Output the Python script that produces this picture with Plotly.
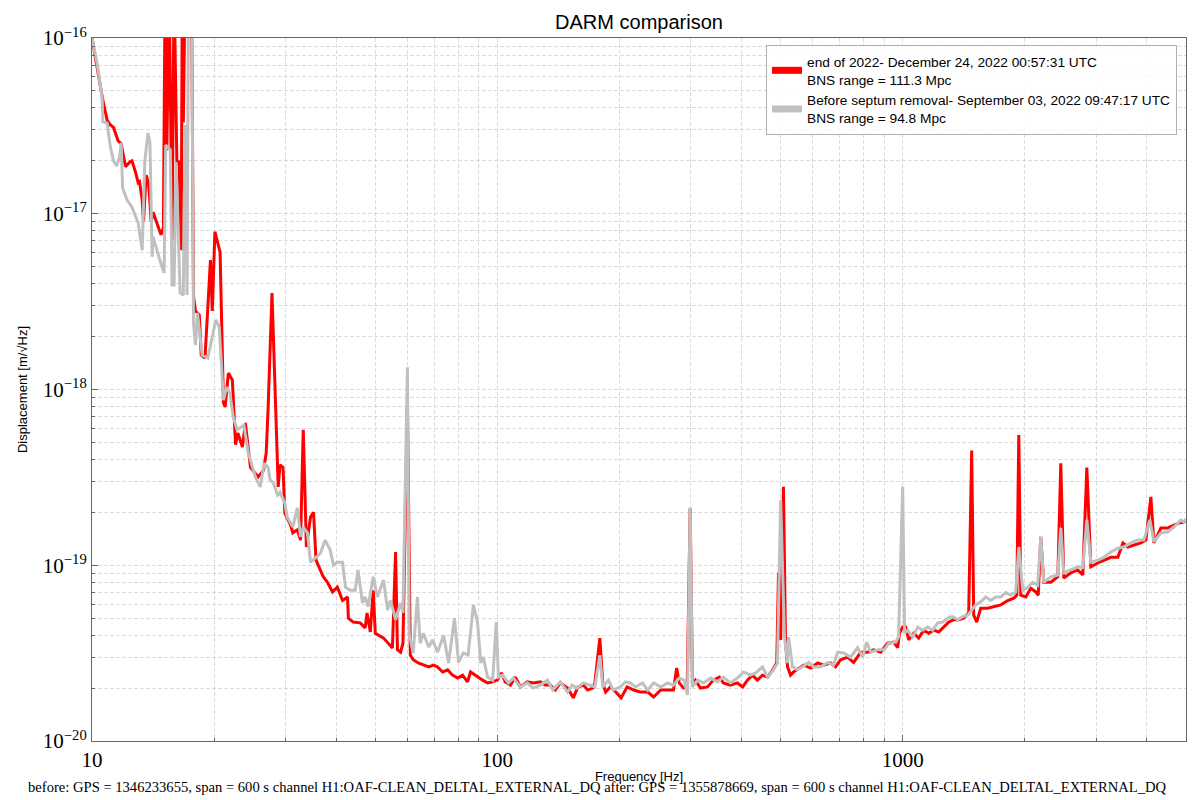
import plotly.graph_objects as go

# DARM displacement ASD
red_freq = [10.0, 10.35, 10.64, 10.9, 11.1, 11.3, 11.6, 11.8, 12.0, 12.1, 12.4, 12.55, 12.8, 13.0, 13.1, 13.3, 13.4,
            13.6, 13.8, 14.0, 14.15, 14.56, 14.8, 15.0, 15.15, 15.3, 15.5, 15.76, 15.94, 16.2, 16.4, 16.6, 16.7,
            16.8, 16.97, 17.3, 17.6, 17.8, 18.0, 18.4, 18.6, 19.0, 19.6, 19.8, 20.1, 20.7, 21.1, 21.3, 21.7, 22.2,
            22.6, 22.9, 23.5, 23.9, 24.6, 25.7, 26.5, 26.9, 27.2, 27.8, 28.0, 28.8, 29.1, 29.6, 29.9, 30.9, 31.3,
            32.1, 32.7, 33.2, 33.4, 33.8, 34.6, 35.2, 35.7, 37.2, 38.1, 39.2, 40.3, 41.5, 42.7, 42.9, 44.1, 45.9,
            47.2, 47.7, 48.6, 49.4, 50.0, 52.4, 55.1, 56.1, 56.7, 57.7, 58.5, 60.0, 61.0, 62.0, 63.8, 65.7, 67.7,
            69.6, 71.2, 73.3, 75.4, 77.5, 79.8, 82.1, 84.4, 85.9, 89.4, 92.0, 94.6, 97.4, 100, 102.4, 104.6, 107.7,
            110.8, 114, 118.6, 122.7, 127.7, 131.4, 135, 139, 143, 149, 154, 158, 163, 167, 172, 174, 179, 182,
            185, 190, 196, 202, 209, 217, 225, 235, 243, 253, 263, 272, 277, 281, 288, 294, 299, 303, 308, 317,
            330, 341, 353, 361, 376, 391, 403, 414, 426, 438, 451, 464, 478, 489, 494, 500, 508, 514, 520, 529,
            538, 554, 570, 593, 617, 638, 664, 683, 703, 731, 757, 788, 820, 848, 883, 918, 950, 972, 982, 1000,
            1017, 1035, 1065, 1095, 1127, 1159, 1193, 1227, 1262, 1299, 1336, 1375, 1414, 1455, 1480, 1497, 1523,
            1558, 1622, 1678, 1746, 1817, 1880, 1912, 1934, 1956, 2013, 2070, 2130, 2160, 2191, 2229, 2320, 2414,
            2455, 2497, 2599, 2704, 2782, 2847, 2912, 3030, 3136, 3263, 3396, 3494, 3594, 3719, 3870, 3981, 4096,
            4167, 4335, 4510, 4667, 4803, 4941, 5000]
red_asd = [1.0e-16, 6.3e-17, 4.4e-17, 3.4e-17, 3.2e-17, 3.1e-17, 2.6e-17, 2.5e-17, 2.0e-17, 1.85e-17, 1.97e-17,
           2.0e-17, 1.73e-17, 1.5e-17, 1.52e-17, 1.2e-17, 9.0e-18, 1.66e-17, 1.46e-17, 9.0e-18, 1.02e-17, 8.6e-18,
           7.6e-18, 8.3e-18, 2e-16, 2.3e-17, 2e-16, 7.1e-18, 2e-16, 1.9e-17, 2.0e-17, 6.2e-18, 2e-16, 3.3e-17,
           2e-16, 2e-16, 2e-16, 3.4e-18, 2.8e-18, 2.65e-18, 1.57e-18, 1.51e-18, 5.45e-18, 2.8e-18, 7.9e-18,
           6.05e-18, 8.4e-19, 7.95e-19, 1.24e-18, 1.13e-18, 4.85e-19, 5.66e-19, 4.7e-19, 6.45e-19, 3.6e-19,
           3.18e-19, 3.48e-19, 4.35e-19, 7.95e-19, 3.54e-18, 2.1e-18, 2.79e-19, 3.72e-19, 3.6e-19, 1.98e-19,
           1.69e-19, 1.53e-19, 1.59e-19, 1.39e-19, 5.9e-19, 3.6e-19, 1.27e-19, 1.88e-19, 2.0e-19, 1.07e-19,
           8.6e-20, 8.0e-20, 7.05e-20, 7.5e-20, 6.3e-20, 6.6e-20, 5.0e-20, 4.75e-20, 4.7e-20, 4.4e-20, 5.35e-20,
           4.17e-20, 7.2e-20, 4.1e-20, 3.85e-20, 3.38e-20, 1.19e-19, 3.3e-20, 3.2e-20, 3.6e-20, 8.4e-19, 3.08e-20,
           2.9e-20, 2.78e-20, 2.7e-20, 2.64e-20, 2.7e-20, 2.64e-20, 2.47e-20, 2.54e-20, 2.37e-20, 2.28e-20,
           2.37e-20, 2.17e-20, 2.47e-20, 2.31e-20, 2.22e-20, 2.14e-20, 2.17e-20, 2.22e-20, 2.44e-20, 2.17e-20,
           2.08e-20, 2.31e-20, 2.03e-20, 2.17e-20, 2.14e-20, 2.17e-20, 2.08e-20, 2.08e-20, 1.95e-20, 2.14e-20,
           2.0e-20, 1.76e-20, 2.03e-20, 2.08e-20, 1.95e-20, 2.0e-20, 2.14e-20, 3.85e-20, 2.14e-20, 1.9e-20,
           2.03e-20, 1.9e-20, 1.76e-20, 2.03e-20, 1.95e-20, 1.9e-20, 1.9e-20, 1.78e-20, 1.95e-20, 1.95e-20,
           1.95e-20, 2.6e-20, 2.14e-20, 2.0e-20, 2.03e-20, 2.1e-19, 2.14e-20, 2.22e-20, 2.0e-20, 2.03e-20,
           2.22e-20, 2.31e-20, 2.14e-20, 2.08e-20, 2.14e-20, 2.03e-20, 2.22e-20, 2.37e-20, 2.22e-20, 2.37e-20,
           2.31e-20, 2.54e-20, 2.8e-20, 9.1e-20, 3.76e-20, 2.8e-19, 3.65e-20, 2.64e-20, 2.37e-20, 2.47e-20,
           2.6e-20, 2.7e-20, 2.6e-20, 2.78e-20, 2.7e-20, 2.78e-20, 2.64e-20, 2.9e-20, 3.0e-20, 2.8e-20, 3.2e-20,
           3.2e-20, 3.3e-20, 3.2e-20, 3.6e-20, 3.65e-20, 3.4e-20, 4.1e-20, 4.45e-20, 4.45e-20, 3.76e-20, 4.1e-20,
           3.85e-20, 4.27e-20, 4.1e-20, 4.27e-20, 4.17e-20, 4.45e-20, 4.75e-20, 4.9e-20, 4.9e-20, 5.0e-20,
           5.35e-20, 4.5e-19, 5.2e-20, 4.75e-20, 5.7e-20, 5.7e-20, 5.8e-20, 5.95e-20, 6.3e-20, 6.5e-20, 6.75e-20,
           5.5e-19, 6.75e-20, 6.6e-20, 7.4e-20, 7.05e-20, 6.75e-20, 1.45e-19, 8.0e-20, 8.0e-20, 8.6e-20, 3.8e-19,
           8.45e-20, 9.06e-20, 9.4e-20, 8.8e-20, 3.6e-19, 9.8e-20, 1.03e-19, 1.07e-19, 1.11e-19, 1.11e-19,
           1.34e-19, 1.27e-19, 1.3e-19, 1.34e-19, 1.39e-19, 2.45e-19, 1.34e-19, 1.63e-19, 1.63e-19, 1.69e-19,
           1.74e-19, 1.76e-19, 1.8e-19]

gray_freq = [10.0, 10.29, 10.59, 10.64, 10.9, 11.1, 11.3, 11.5, 11.7, 11.8, 11.9, 12.2, 12.55, 12.8, 13.0, 13.3,
             13.5, 13.75, 13.9, 14.07, 14.15, 14.7, 15.06, 15.2, 15.6, 15.76, 15.94, 16.12, 16.5, 16.8, 16.97,
             17.16, 17.3, 17.6, 17.8, 18.0, 18.2, 18.7, 19.3, 19.8, 20.2, 20.6, 21.1, 21.5, 21.9, 22.3, 22.8, 23.2,
             23.7, 24.3, 25.3, 26.0, 26.6, 27.2, 27.5, 28.0, 28.7, 29.1, 29.9, 30.3, 31.3, 32.1, 32.7, 33.2, 34.0,
             34.6, 35.6, 36.6, 37.6, 38.7, 39.4, 40.3, 41.5, 42.2, 43.4, 44.6, 45.3, 46.5, 47.2, 48.0, 49.4, 50.6,
             52.4, 53.6, 54.5, 56.1, 57.7, 58.5, 60.0, 60.6, 62.0, 63.5, 64.5, 65.7, 67.7, 69.2, 71.2, 73.7, 75.8,
             78.4, 80.2, 82.4, 84.7, 87.3, 89.4, 91.0, 92.3, 94.6, 97.4, 99.4, 100.6, 103, 106.5, 109.5, 114,
             118.6, 122.7, 127.7, 133, 137, 143, 149, 153, 157, 163, 169, 174, 179, 182, 188, 193, 201, 207, 213,
             219, 228, 235, 243, 253, 263, 272, 281, 289, 294.5, 299, 303, 312, 323, 336, 349, 361, 376, 391, 405,
             421, 434, 451, 464, 480, 491, 500, 511, 520, 523, 535, 550, 566, 586, 603, 627, 653, 675, 691, 715,
             744, 774, 797, 815, 834, 868, 900, 924, 961, 977, 1000, 1011, 1029, 1058, 1089, 1120, 1153, 1186,
             1220, 1256, 1292, 1329, 1368, 1406, 1447, 1480, 1514, 1558, 1603, 1649, 1697, 1746, 1796, 1848, 1901,
             1934, 1978, 2035, 2094, 2154, 2191, 2229, 2320, 2414, 2455, 2497, 2599, 2704, 2782, 2847, 2912, 3030,
             3136, 3263, 3396, 3513, 3656, 3804, 3936, 4073, 4167, 4335, 4510, 4667, 4858, 4941, 5000]
gray_asd = [1.0e-16, 7.2e-17, 4.6e-17, 3.33e-17, 3.28e-17, 2.4e-17, 2.0e-17, 1.87e-17, 2.1e-17, 2.53e-17, 1.4e-17,
            1.2e-17, 1.09e-17, 9.8e-18, 8.85e-18, 6.2e-18, 2.0e-17, 2.88e-17, 2.53e-17, 5.7e-18, 7.4e-18, 5.45e-18,
            4.6e-18, 2.46e-17, 2.31e-17, 3.93e-18, 3.93e-18, 1.97e-17, 3.54e-18, 3.45e-18, 3.2e-17, 3.45e-18,
            2e-16, 2e-16, 2.39e-18, 1.79e-18, 2.73e-18, 1.57e-18, 1.51e-18, 1.99e-18, 2.49e-18, 2.27e-18, 8.7e-19,
            1.03e-18, 9.5e-19, 7.0e-19, 5.9e-19, 6.05e-19, 6.25e-19, 4.35e-19, 3.18e-19, 2.79e-19, 3.8e-19,
            3.6e-19, 3.06e-19, 2.95e-19, 2.51e-19, 2.6e-19, 2.26e-19, 1.88e-19, 1.65e-19, 2.12e-19, 1.45e-19,
            1.65e-19, 1.53e-19, 1.04e-19, 1.11e-19, 1.17e-19, 1.39e-19, 1.22e-19, 1.0e-19, 1.04e-19, 1.04e-19,
            7.5e-20, 7.2e-20, 7.2e-20, 9.4e-20, 6.1e-20, 6.6e-20, 5.8e-20, 8.6e-20, 6.6e-20, 8.25e-20, 5.56e-20,
            6.3e-20, 4.9e-20, 6.1e-20, 5.35e-20, 1.34e-18, 4.1e-20, 3.17e-20, 6.6e-20, 3.6e-20, 4.1e-20, 3.43e-20,
            3.76e-20, 3.2e-20, 4.0e-20, 2.78e-20, 5.0e-20, 2.8e-20, 3.17e-20, 3.08e-20, 5.95e-20, 4.7e-20,
            2.78e-20, 3.0e-20, 2.31e-20, 2.22e-20, 4.75e-20, 2.31e-20, 2.37e-20, 2.14e-20, 2.28e-20, 2.03e-20,
            2.14e-20, 2.0e-20, 2.08e-20, 2.22e-20, 1.95e-20, 2.17e-20, 1.9e-20, 2.08e-20, 2.0e-20, 2.14e-20,
            2.08e-20, 2.03e-20, 3.08e-20, 2.03e-20, 2.22e-20, 1.95e-20, 2.03e-20, 2.17e-20, 2.14e-20, 2.03e-20,
            2.14e-20, 1.95e-20, 2.14e-20, 2.03e-20, 2.14e-20, 2.08e-20, 2.28e-20, 2.22e-20, 1.83e-20, 2.13e-19,
            2.03e-20, 2.22e-20, 2.14e-20, 2.28e-20, 2.17e-20, 2.31e-20, 2.14e-20, 2.28e-20, 2.47e-20, 2.37e-20,
            2.44e-20, 2.64e-20, 2.31e-20, 2.54e-20, 2.78e-20, 2.35e-19, 3.9e-20, 2.78e-20, 3.9e-20, 2.64e-20,
            2.54e-20, 2.64e-20, 2.8e-20, 2.64e-20, 2.64e-20, 2.8e-20, 2.7e-20, 3.2e-20, 3.17e-20, 3.0e-20, 3.4e-20,
            3.0e-20, 3.65e-20, 3.2e-20, 3.3e-20, 3.3e-20, 3.6e-20, 3.65e-20, 3.9e-20, 2.8e-19, 4.1e-20, 4.27e-20,
            3.9e-20, 4.45e-20, 4.27e-20, 4.45e-20, 4.27e-20, 4.7e-20, 4.75e-20, 5.0e-20, 5.1e-20, 4.9e-20, 5.1e-20,
            5.2e-20, 5.56e-20, 5.95e-20, 6.2e-20, 6.6e-20, 6.3e-20, 6.6e-20, 6.6e-20, 7.0e-20, 6.75e-20, 7.05e-20,
            1.27e-19, 7.2e-20, 7.5e-20, 8.0e-20, 7.7e-20, 1.45e-19, 8.0e-20, 8.6e-20, 8.8e-20, 1.63e-19, 9.06e-20,
            9.4e-20, 9.8e-20, 9.7e-20, 1.81e-19, 1.04e-19, 1.07e-19, 1.11e-19, 1.19e-19, 1.25e-19, 1.27e-19,
            1.34e-19, 1.39e-19, 1.39e-19, 1.81e-19, 1.36e-19, 1.53e-19, 1.55e-19, 1.65e-19, 1.81e-19, 1.76e-19,
            1.84e-19]

red_label = "end of 2022- December 24, 2022 00:57:31 UTC<br>BNS range = 111.3 Mpc"
gray_label = "Before septum removal- September 03, 2022 09:47:17 UTC<br>BNS range = 94.8 Mpc"
footer = ("before: GPS = 1346233655, span = 600 s channel H1:OAF-CLEAN_DELTAL_EXTERNAL_DQ "
          "after: GPS = 1355878669, span = 600 s channel H1:OAF-CLEAN_DELTAL_EXTERNAL_DQ")

x_major = [10, 100, 1000]
x_major_text = ["10", "100", "1000"]
x_minor = [m * d for d in (10, 100, 1000) for m in range(2, 10) if m * d <= 5000]
y_major = [1e-20, 1e-19, 1e-18, 1e-17, 1e-16]
y_major_text = ["10<sup>\u221220</sup>", "10<sup>\u221219</sup>", "10<sup>\u221218</sup>",
                "10<sup>\u221217</sup>", "10<sup>\u221216</sup>"]
y_minor = [m * d for d in (1e-20, 1e-19, 1e-18, 1e-17) for m in range(2, 10)]

RED = "#ff0000"
GRAY = "#c0c0c0"
GRID = "#dcdcdc"
AXIS = "#666666"
DASH = "4px,2px"
TICKFONT = dict(family="Liberation Sans Narrow", size=21, color="black")

fig = go.Figure()

# traces themselves (gray drawn over red like the original)
fig.add_trace(go.Scatter(x=red_freq, y=red_asd, mode="lines", line=dict(color=RED, width=3),
                         showlegend=False, hoverinfo="skip"))
fig.add_trace(go.Scatter(x=gray_freq, y=gray_asd, mode="lines", line=dict(color=GRAY, width=3),
                         showlegend=False, hoverinfo="skip"))

# legend-only entries with thick patches
fig.add_trace(go.Scatter(x=[None], y=[None], mode="lines", line=dict(color=RED, width=7), name=red_label))
fig.add_trace(go.Scatter(x=[None], y=[None], mode="lines", line=dict(color=GRAY, width=7), name=gray_label))

axis_common = dict(
    type="log", showline=True, linecolor=AXIS, linewidth=1, mirror=True,
    ticks="inside", ticklen=6, tickcolor=AXIS, tickwidth=1,
    showgrid=True, gridcolor=GRID, griddash=DASH, gridwidth=1,
    zeroline=False, tickfont=TICKFONT, automargin=False,
)
minor_common = dict(tickmode="array", ticks="inside", ticklen=3, tickcolor=AXIS,
                    showgrid=True, gridcolor=GRID, griddash=DASH, gridwidth=1)

fig.update_xaxes(
    **axis_common,
    range=[1, 3.69897],
    tickmode="array", tickvals=x_major, ticktext=x_major_text,
    minor=dict(tickvals=x_minor, **minor_common),
    title=dict(text="Frequency [Hz]", font=dict(family="Liberation Sans", size=13, color="black"), standoff=0),
)
fig.update_yaxes(
    **axis_common,
    range=[-20, -16],
    tickmode="array", tickvals=y_major, ticktext=y_major_text,
    minor=dict(tickvals=y_minor, **minor_common),
    title=dict(text="Displacement [m/\u221aHz]", font=dict(family="Liberation Sans", size=13, color="black"),
               standoff=12),
)

# the page puts the figure 8px in from the top-left corner, so the figure is 8px smaller
fig.update_layout(
    width=1192, height=792,
    margin=dict(l=84, r=14, t=30, b=59),
    paper_bgcolor="white", plot_bgcolor="white",
    title=dict(text="DARM comparison", x=631 / 1192, xanchor="center", y=1 - 14 / 792, yanchor="middle",
               font=dict(family="Liberation Sans", size=20, color="black")),
    legend=dict(x=0.9918, y=0.99, xanchor="right", yanchor="top",
                bgcolor="rgba(255,255,255,0.85)", bordercolor="#b0b0b0", borderwidth=1,
                font=dict(family="Liberation Sans", size=13.7, color="black"),
                itemwidth=30, tracegroupgap=0),
    annotations=[dict(text=footer, xref="paper", yref="paper", x=0.4625, y=-0.0654,
                      xanchor="center", yanchor="middle", showarrow=False,
                      font=dict(family="Liberation Sans Narrow", size=14.6, color="black"))],
)

fig.write_html("out.html")
